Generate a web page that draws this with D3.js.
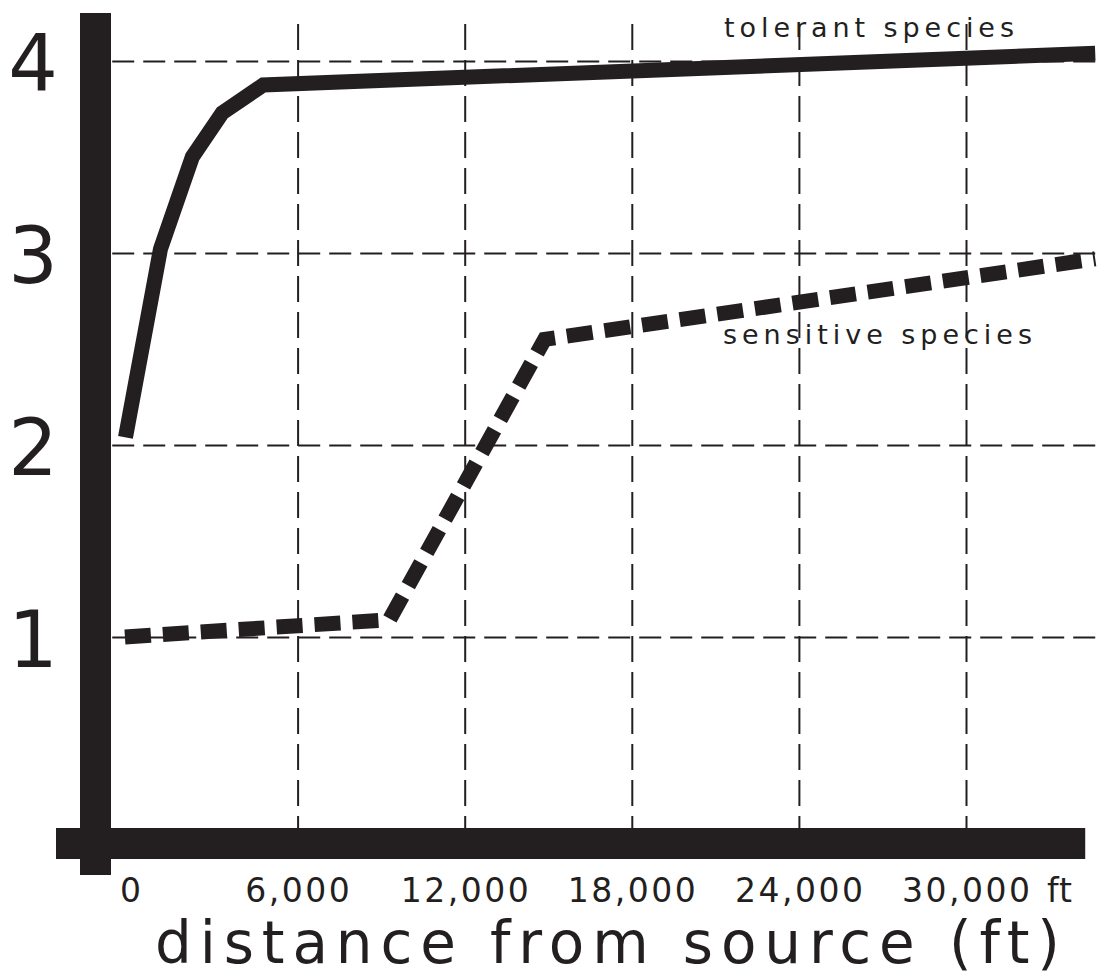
<!DOCTYPE html>
<html>
<head>
<meta charset="utf-8">
<script src="https://cdn.jsdelivr.net/npm/d3@7"></script>
<style>
  html, body { margin: 0; padding: 0; background: #fff; }
  svg { display: block; }
  text { font-family: "DejaVu Sans", "Open Sans", sans-serif; fill: #231f20; }
</style>
</head>
<body>
<svg id="chart" width="1101" height="978"></svg>
<script>
// ---- data ----
const xTicks = [0, 6000, 12000, 18000, 24000, 30000];
const xTickLabels = ["0", "6,000", "12,000", "18,000", "24,000", "30,000"];
const xUnit = "ft";
const yTicks = [1, 2, 3, 4];
const yTickLabels = ["1", "2", "3", "4"];
const xTitle = "distance from source (ft)";

const tolerantName = "tolerant species";
const tolerantX = [-180, 1075, 2220, 3295, 4765, 34640];
const tolerantY = [2.04, 3.02, 3.5, 3.73, 3.875, 4.04];

const sensitiveName = "sensitive species";
const sensitiveX = [-200, 9300, 14870, 34640];
const sensitiveY = [1.0, 1.09, 2.55, 2.97];

// ---- layout ----
const ink = "#231f20";
const svg = d3.select("#chart");
const x = d3.scaleLinear().domain([0, 30000]).range([130.5, 966]);
const y = d3.scaleLinear().domain([0, 4]).range([829, 61]);
const xMax = 34640;

// horizontal gridlines
const hGrid = svg.append("g")
  .attr("transform", `translate(${x(xMax)},0)`)
  .call(d3.axisLeft(y).tickValues(yTicks).tickSize(x(xMax) - 111).tickFormat(""));
hGrid.select(".domain").remove();
hGrid.selectAll("line").attr("stroke", ink).attr("stroke-width", 2).attr("stroke-dasharray", "22,9");

// vertical gridlines
const vGrid = svg.append("g")
  .attr("transform", `translate(0,24)`)
  .call(d3.axisBottom(x).tickValues(xTicks.slice(1)).tickSize(y(0) - 24).tickFormat(""));
vGrid.select(".domain").remove();
vGrid.selectAll("line").attr("stroke", ink).attr("stroke-width", 2).attr("stroke-dasharray", "26,10");

// axis bars
svg.append("rect").attr("x", 56).attr("y", y(0) - 1).attr("width", x(xMax) - 10 - 56).attr("height", 31).attr("fill", ink);
svg.append("rect").attr("x", 80).attr("y", 13).attr("width", 31).attr("height", 875 - 13).attr("fill", ink);

// lines
const line = d3.line().x(d => x(d[0])).y(d => y(d[1]));
svg.append("path")
  .datum(tolerantX.map((v, i) => [v, tolerantY[i]]))
  .attr("d", line).attr("fill", "none").attr("stroke", ink)
  .attr("stroke-width", 15).attr("stroke-linejoin", "miter").attr("stroke-linecap", "butt");
svg.append("path")
  .datum(sensitiveX.map((v, i) => [v, sensitiveY[i]]))
  .attr("d", line).attr("fill", "none").attr("stroke", ink)
  .attr("stroke-width", 15).attr("stroke-dasharray", "26,12").attr("stroke-linecap", "butt");

// y tick labels
svg.append("g").selectAll("text").data(yTicks).join("text")
  .attr("x", 33).attr("y", d => y(d) + 30)
  .attr("text-anchor", "middle").attr("font-size", 78)
  .text((d, i) => yTickLabels[i]);

// x tick labels
svg.append("g").selectAll("text").data(xTicks).join("text")
  .attr("x", d => x(d)).attr("y", 902)
  .attr("text-anchor", "middle").attr("font-size", 33)
  .attr("letter-spacing", 2.5).attr("dx", 1.25)
  .text((d, i) => xTickLabels[i]);
svg.append("text").attr("x", x(30000) + 81).attr("y", 902)
  .attr("font-size", 33).attr("letter-spacing", 1).text(xUnit);

// x title
svg.append("text").attr("x", 155).attr("y", 963)
  .attr("font-size", 58).attr("textLength", 905).attr("lengthAdjust", "spacing")
  .text(xTitle);

// series labels
svg.append("text").attr("x", 724).attr("y", 37)
  .attr("font-size", 27).attr("textLength", 290).attr("lengthAdjust", "spacing")
  .text(tolerantName);
svg.append("text").attr("x", 723).attr("y", 344)
  .attr("font-size", 27).attr("textLength", 309).attr("lengthAdjust", "spacing")
  .text(sensitiveName);
</script>
</body>
</html>
